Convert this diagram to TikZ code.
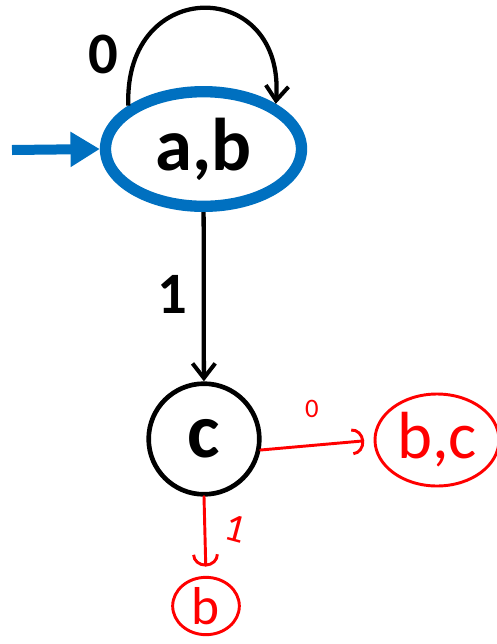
\documentclass[tikz,border=0pt]{standalone}
\usepackage{fontspec}
\setmainfont{Carlito}
\usetikzlibrary{arrows.meta,shapes.geometric}
\definecolor{stateblue}{RGB}{0,112,192}
\definecolor{inkred}{RGB}{255,0,0}

\begin{document}
\begin{tikzpicture}[
    x=0.75pt, y=-0.75pt,
    startstate/.style={ellipse, draw=stateblue, line width=8.5pt, minimum width=147pt, minimum height=86pt, inner sep=0pt, font=\fontsize{56}{60}\selectfont\bfseries},
    state/.style={circle, draw=black, line width=3.5pt, minimum size=83pt, inner sep=0pt, font=\fontsize{58}{60}\selectfont\bfseries},
    inkstate/.style={ellipse, draw=inkred, line width=2.2pt, inner sep=0pt, text=inkred, font=\fontsize{50}{54}\selectfont},
    edge/.style={-{Straight Barb[length=11pt, width=17pt, line width=3pt]}, draw=black, line width=3.2pt},
    inkedge/.style={-{Arc Barb[length=9pt, width=20pt, line width=2.2pt]}, draw=inkred, line width=2.2pt, line cap=round},
    lbl/.style={font=\fontsize{44}{48}\selectfont\bfseries},
    inklbl/.style={text=inkred}
]
\useasboundingbox (0,0) rectangle (497,644);

% states
\node[startstate] (ab) at (203.5,149) {a,b};
\node[state] (c) at (204,439) {c};
\node[inkstate, minimum width=93pt, minimum height=69pt] (bc) at (437,440) {b,c};
\node[inkstate, minimum width=50pt, minimum height=43pt, font=\fontsize{40}{44}\selectfont] (b) at (206,606) {b};

% start arrow
\coordinate (init) at (12,150);
\draw[-{Triangle[length=22pt, width=25pt]}, draw=stateblue, fill=stateblue, line width=7.5pt] (init) -- (ab.west);

% transitions
\draw[edge] (ab.150) .. controls +(-5,-130) and +(10,-127) .. (ab.32);
\node[lbl] (l0) at (103,54) {0};
\draw[edge] (ab) -- (c);
\node[lbl] (l1) at (172,294) {1};

% handwritten part
\draw[inkedge, shorten >=7pt] (c.-11) -- (bc.west);
\node[inklbl, font=\fontsize{20}{22}\selectfont] (r0) at (312,409) {0};
\draw[inkedge, shorten >=7pt] (c.south) -- (b.north);
\node[inklbl, rotate=-15, font=\fontsize{30}{32}\selectfont] (r1) at (236,529) {1};
\end{tikzpicture}
\end{document}
